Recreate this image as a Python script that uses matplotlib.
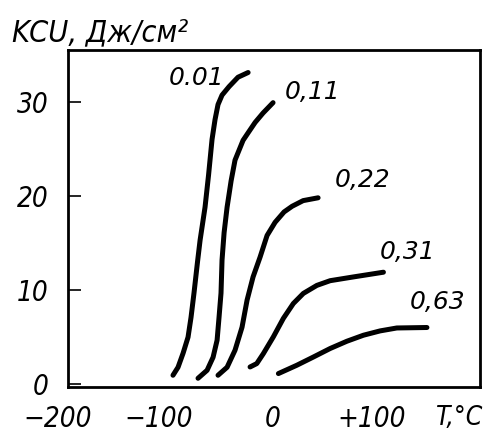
import matplotlib
matplotlib.use("Agg")
from matplotlib import pyplot as plt
from matplotlib.transforms import ScaledTranslation

# curve data: temperature (deg C) vs KCU (J/cm^2)
t_001 = [-98.1, -93.2, -88.3, -83.5, -80.6, -77.7, -74.3, -71.8, -67.0,
         -63.6, -60.2, -57.3, -54.4, -50.5, -43.7, -35.0, -25.2]
k_001 = [0.96, 1.81, 3.30, 5.0, 7.1, 9.7, 13.0, 15.3, 18.8,
         22.2, 26.0, 28.1, 29.7, 30.7, 31.6, 32.6, 33.1]

t_011 = [-73.8, -65.0, -59.2, -55.3, -53.4, -51.5, -50.5, -48.5, -45.6,
         -41.7, -37.9, -30.1, -25.2, -18.4, -10.7, -1.0]
k_011 = [0.64, 1.49, 2.87, 4.68, 7.13, 9.68, 13.2, 16.1, 18.8,
         21.6, 23.8, 25.9, 26.7, 27.8, 28.8, 29.9]

t_022 = [-54.4, -45.6, -37.9, -31.1, -26.2, -20.4, -13.6, -6.8, 1.0,
         9.7, 17.5, 28.2, 42.7]
k_022 = [0.96, 1.81, 3.62, 6.06, 8.94, 11.4, 13.5, 15.8, 17.2,
         18.3, 18.9, 19.5, 19.8]

t_031 = [-23.3, -16.8, -10.4, -0.7, 9.0, 18.7, 28.4, 41.5, 54.4, 77.0, 106.1]
k_031 = [1.84, 2.20, 3.26, 5.04, 7.0, 8.58, 9.65, 10.5, 11.0, 11.4, 11.9]

t_063 = [4.2, 22.0, 38.2, 54.4, 70.6, 86.7, 102.9, 119.1, 148.3]
k_063 = [1.14, 2.02, 2.90, 3.80, 4.57, 5.21, 5.67, 5.98, 6.03]

curve_labels = ["0.01", "0,11", "0,22", "0,31", "0,63"]
label_t = [-75, 37, 86, 130, 159]
label_k = [32.5, 31.0, 21.7, 14.0, 8.7]

x_ticks = [-200, -100, 0, 100]
x_ticklabels = ["\u2212200", "\u2212100", "0", "+100"]
y_ticks = [0, 10, 20, 30]

font = dict(family="DejaVu Sans", style="italic", stretch="condensed")

fig = plt.figure(figsize=(4.89, 4.34), dpi=100)
ax = fig.add_axes([0.139, 0.108, 0.843, 0.777])

curves = [(t_001, k_001), (t_011, k_011), (t_022, k_022),
          (t_031, k_031), (t_063, k_063)]
for t, k in curves:
    ax.plot(t, k, color="black", lw=3.6, solid_capstyle="round",
            solid_joinstyle="round")

for lab, t, k in zip(curve_labels, label_t, label_k):
    ax.text(t, k, lab, fontsize=18, ha="center", va="center",
            family="DejaVu Sans", style="italic")

ax.set_xlim(-200, 200)
ax.set_ylim(-0.3, 35.5)

# x: labels only, one inward tick at +100
ax.set_xticks(x_ticks)
ax.set_xticklabels(x_ticklabels, fontsize=20, **font)
ax.tick_params(axis="x", length=0, pad=13)
ax.set_xticks([100], minor=True)
ax.tick_params(axis="x", which="minor", direction="in", length=9, width=1.2)

# the scanned labels sit a little left of their ticks
for lbl, dx in zip(ax.get_xticklabels(), [-10, -12, -1, -6]):
    lbl.set_transform(lbl.get_transform()
                      + ScaledTranslation(dx / 100, 0, fig.dpi_scale_trans))

ax.set_yticks(y_ticks)
ax.set_yticklabels([str(v) for v in y_ticks], fontsize=20, **font)
ax.tick_params(axis="y", direction="in", length=9, width=1.2, pad=14)

for s in ax.spines.values():
    s.set_linewidth(2)

ax.text(0.95, -0.092, "T,\u00b0C", transform=ax.transAxes, fontsize=19,
        ha="center", va="center", **font)
fig.text(0.025, 0.924, "KCU, \u0414\u0436/\u0441\u043c\u00b2", fontsize=22,
         ha="left", va="center", **font)

fig.savefig("out.png", dpi=100)
